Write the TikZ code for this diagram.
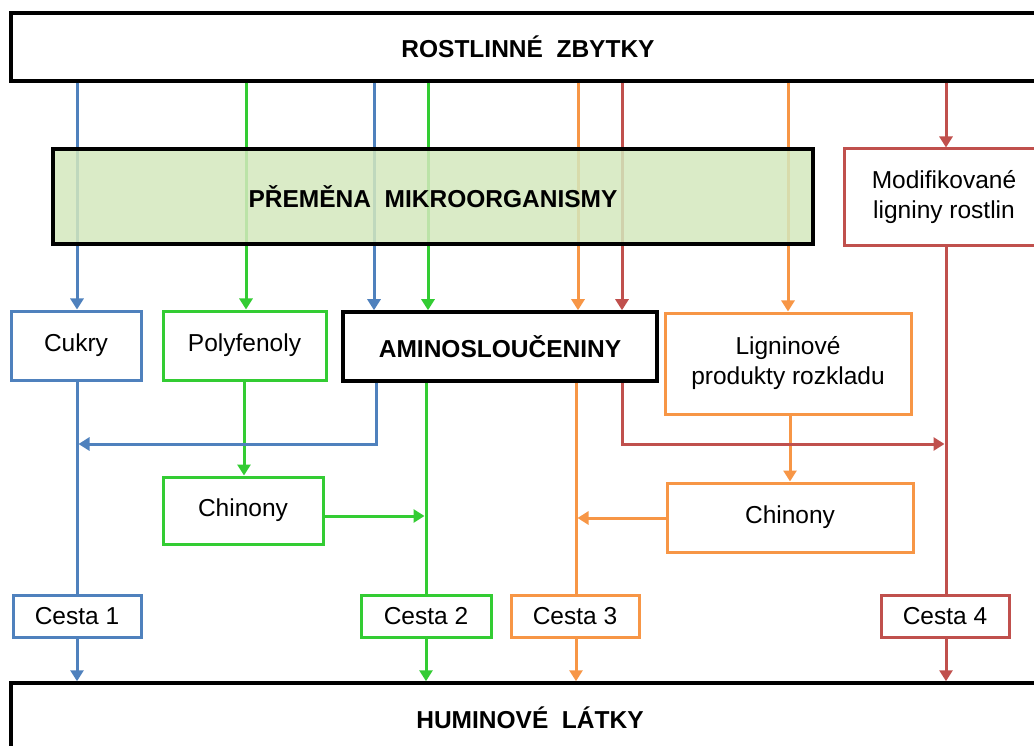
\documentclass[tikz,border=0pt]{standalone}
\usepackage{fontspec}
\setmainfont{Liberation Sans}
\usetikzlibrary{arrows.meta}
\definecolor{cblue}{HTML}{4F81BD}
\definecolor{cgreen}{HTML}{33CC33}
\definecolor{corange}{HTML}{F79646}
\definecolor{cred}{HTML}{C0504D}
\definecolor{cfill}{HTML}{D3E8BD}
\tikzset{
  box/.style={draw=#1, line width=3pt, inner sep=0pt, align=center, font=\fontsize{24.5}{30}\selectfont, fill=white},
  bigbox/.style={draw=black, line width=3.5pt, inner sep=0pt, align=center, font=\fontsize{24.5}{30}\selectfont\bfseries, fill=white},
  conn/.style={draw=#1, line width=3pt},
  arr/.style={draw=#1, line width=3pt, -{Triangle[width=13pt,length=11pt]}},
}
\begin{document}
\begin{tikzpicture}[x=1pt,y=-1pt]
\useasboundingbox (0,0) rectangle (1034,746);
% nodes
\node[bigbox, minimum width=1034pt, minimum height=68pt] (top) at (528,47) {ROSTLINNÉ\ \ ZBYTKY};
\node[bigbox, minimum width=1038pt, minimum height=70pt] (bot) at (530,718) {HUMINOVÉ\ \ LÁTKY};
\node[box=cred, minimum width=200pt, minimum height=97pt] (modif) at (944,197.5) {Modifikované\\ligniny rostlin};
\node[box=cblue, minimum width=130pt, minimum height=69pt] (cukry) at (76,345.5) {Cukry};
\node[box=cgreen, minimum width=163pt, minimum height=69pt] (polyf) at (244.5,345.5) {Polyfenoly};
\node[bigbox, line width=3.5pt, minimum width=314pt, minimum height=69pt] (amino) at (500,346.5) {AMINOSLOUČENINY};
\node[box=corange, minimum width=246pt, minimum height=101pt] (lignin) at (788,363.5) {Ligninové\\produkty rozkladu};
\node[box=cgreen, minimum width=160pt, minimum height=67pt] (chinG) at (243,510.5) {Chinony};
\node[box=corange, minimum width=246pt, minimum height=69pt] (chinO) at (790,517.5) {Chinony};
\node[box=cblue, minimum width=128pt, minimum height=42pt] (c1) at (77,616) {Cesta 1};
\node[box=cgreen, minimum width=130pt, minimum height=42pt] (c2) at (426,616) {Cesta 2};
\node[box=corange, minimum width=128pt, minimum height=42pt] (c3) at (575,616) {Cesta 3};
\node[box=cred, minimum width=128pt, minimum height=42pt] (c4) at (945,616) {Cesta 4};
\coordinate (jb) at (78.5,444);
\coordinate (jr) at (944.5,444);
\coordinate (jg) at (424.5,516);
\coordinate (jo) at (577.5,518);
% vertical connectors from the top
\draw[arr=cblue] (top.south -| 77,0) -- (cukry.north -| 77,0);
\draw[arr=cgreen] (top.south -| 246,0) -- (polyf.north -| 246,0);
\draw[arr=cblue] (top.south -| 374,0) -- (amino.north -| 374,0);
\draw[arr=cgreen] (top.south -| 428,0) -- (amino.north -| 428,0);
\draw[arr=corange] (top.south -| 578,0) -- (amino.north -| 578,0);
\draw[arr=cred] (top.south -| 622,0) -- (amino.north -| 622,0);
\draw[arr=corange] (top.south -| 788,0) -- (lignin.north -| 788,0);
\draw[arr=cred] (top.south -| 946,0) -- (modif.north -| 946,0);
% transformation box over the lines
\node[draw=black, line width=3.5pt, fill=cfill, fill opacity=0.85, text opacity=1, minimum width=760pt, minimum height=95pt, inner sep=0pt, font=\fontsize{24.5}{30}\selectfont\bfseries] (prem) at (433,196.5) {PŘEMĚNA\ \ MIKROORGANISMY};
% lower verticals
\draw[conn=cblue] (cukry.south -| 77,0) -- (c1.north -| 77,0);
\draw[arr=cblue] (c1.south -| 77,0) -- (bot.north -| 77,0);
\draw[arr=cgreen] (polyf.south -| 244,0) -- (chinG.north -| 244,0);
\draw[conn=cgreen] (amino.south -| 426,0) -- (c2.north -| 426,0);
\draw[arr=cgreen] (c2.south -| 426,0) -- (bot.north -| 426,0);
\draw[conn=corange] (amino.south -| 576,0) -- (c3.north -| 576,0);
\draw[arr=corange] (c3.south -| 576,0) -- (bot.north -| 576,0);
\draw[arr=corange] (lignin.south -| 790,0) -- (chinO.north -| 790,0);
\draw[conn=cred] (modif.south -| 946,0) -- (c4.north -| 946,0);
\draw[arr=cred] (c4.south -| 946,0) -- (bot.north -| 946,0);
% horizontal connectors
\draw[arr=cblue] (amino.south -| 376,0) |- (jb);
\draw[arr=cred] (amino.south -| 622,0) |- (jr);
\draw[arr=cgreen] (chinG.east |- jg) -- (jg);
\draw[arr=corange] (chinO.west |- jo) -- (jo);
\end{tikzpicture}
\end{document}
